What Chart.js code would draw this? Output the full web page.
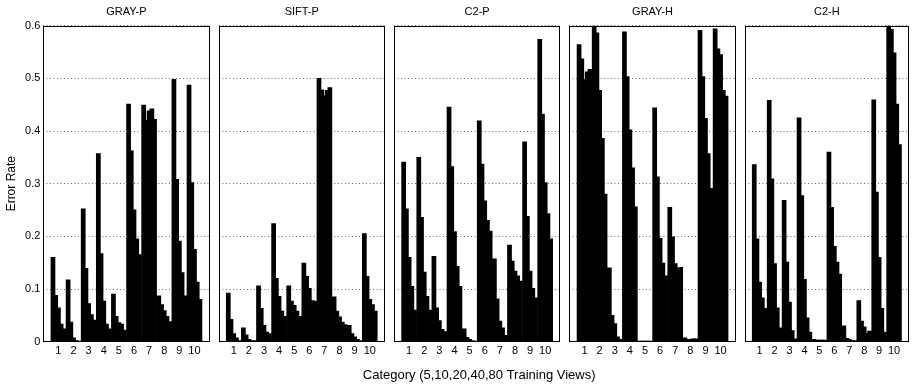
<!DOCTYPE html>
<html><head><meta charset="utf-8">
<script src="https://cdn.jsdelivr.net/npm/chart.js@4/dist/chart.umd.min.js"></script>
<style>
html,body{margin:0;padding:0;background:#fff;}
#wrap{position:relative;width:912px;height:386px;overflow:hidden;}
#wrap canvas{position:absolute;left:0;top:0;}
</style>
</head><body><div id="wrap"></div>
<script>
// ---- data ----
const categories = ['1','2','3','4','5','6','7','8','9','10'];
const trainingViews = ['5','10','20','40','80'];
const panelTitles = ['GRAY-P','SIFT-P','C2-P','GRAY-H','C2-H'];
const yTickLabels = ['0','0.1','0.2','0.3','0.4','0.5','0.6'];
const xAxisTitle = 'Category (5,10,20,40,80 Training Views)';
const yAxisTitle = 'Error Rate';

// rows = categories 1..10, columns = 5,10,20,40,80 training views
const grayP = [
  [0.159,0.087,0.063,0.032,0.023],
  [0.116,0.036,0.006,0.001,0.000],
  [0.251,0.138,0.071,0.050,0.040],
  [0.356,0.166,0.076,0.032,0.023],
  [0.089,0.047,0.035,0.032,0.021],
  [0.450,0.361,0.249,0.194,0.164],
  [0.448,0.419,0.437,0.441,0.421],
  [0.086,0.069,0.058,0.047,0.037],
  [0.497,0.307,0.190,0.130,0.086],
  [0.486,0.301,0.174,0.112,0.079]
];
const siftP = [
  [0.091,0.041,0.014,0.006,0.001],
  [0.025,0.012,0.003,0.001,0.001],
  [0.105,0.062,0.030,0.017,0.014],
  [0.223,0.119,0.085,0.057,0.047],
  [0.105,0.076,0.068,0.057,0.047],
  [0.148,0.123,0.100,0.077,0.076],
  [0.499,0.477,0.466,0.476,0.481],
  [0.084,0.057,0.046,0.036,0.031],
  [0.030,0.014,0.008,0.003,0.001],
  [0.204,0.123,0.079,0.069,0.057]
];
const c2P = [
  [0.340,0.251,0.159,0.104,0.059],
  [0.349,0.235,0.131,0.085,0.059],
  [0.161,0.063,0.039,0.022,0.018],
  [0.444,0.331,0.208,0.142,0.104],
  [0.023,0.007,0.003,0.001,0.000],
  [0.418,0.336,0.266,0.229,0.209],
  [0.156,0.080,0.038,0.025,0.011],
  [0.182,0.152,0.133,0.124,0.114],
  [0.378,0.237,0.133,0.100,0.082],
  [0.573,0.431,0.301,0.242,0.194]
];
const grayH = [
  [0.563,0.536,0.497,0.511,0.516],
  [0.600,0.585,0.476,0.385,0.279],
  [0.139,0.049,0.033,0.008,0.003],
  [0.587,0.502,0.401,0.329,0.255],
  [0.000,0.000,0.000,0.000,0.000],
  [0.443,0.312,0.195,0.148,0.124],
  [0.254,0.198,0.147,0.138,0.140],
  [0.006,0.003,0.003,0.004,0.004],
  [0.590,0.502,0.423,0.356,0.290],
  [0.593,0.555,0.544,0.476,0.465]
];
const c2H = [
  [0.335,0.194,0.112,0.082,0.062],
  [0.457,0.308,0.147,0.063,0.025],
  [0.267,0.150,0.074,0.020,0.004],
  [0.424,0.276,0.117,0.044,0.017],
  [0.003,0.002,0.002,0.002,0.002],
  [0.359,0.254,0.180,0.150,0.127],
  [0.029,0.005,0.003,0.001,0.001],
  [0.077,0.038,0.027,0.014,0.019],
  [0.458,0.283,0.159,0.062,0.017],
  [0.600,0.592,0.547,0.450,0.373]
];
const panelData = [grayP, siftP, c2P, grayH, c2H];

// ---- layout ----
const W = 912, H = 386;
const plotLefts = [43.3, 218.6, 394.0, 569.4, 744.7];
const plotWidth = 166.3;
const FONT = 'Liberation Sans, Arial, Helvetica, sans-serif';

const boxPlugin = {
  id: 'box',
  afterDraw(chart) {
    const a = chart.chartArea, ctx = chart.ctx;
    ctx.save();
    ctx.strokeStyle = '#000';
    ctx.lineWidth = 1;
    const l = Math.round(a.left) + 0.5, t = Math.round(a.top) + 0.5;
    const r = Math.round(a.right) - 0.5, b = Math.round(a.bottom) - 0.5;
    ctx.strokeRect(l, t, r - l, b - t);
    ctx.restore();
  }
};

// shared x-axis title, drawn under the middle panel without width squeezing
const xTitlePlugin = {
  id: 'xTitle',
  afterDraw(chart) {
    const a = chart.chartArea, ctx = chart.ctx;
    ctx.save();
    ctx.font = '13px ' + FONT;
    ctx.fillStyle = '#000';
    ctx.textAlign = 'center';
    ctx.textBaseline = 'middle';
    ctx.fillText(xAxisTitle, (a.left + a.right) / 2 + 2, 375);
    ctx.restore();
  }
};

const wrap = document.getElementById('wrap');
panelData.forEach((rows, p) => {
  const cv = document.createElement('canvas');
  cv.width = W; cv.height = H;
  cv.style.width = W + 'px'; cv.style.height = H + 'px';
  wrap.appendChild(cv);
  const datasets = trainingViews.map((tv, j) => ({
    label: tv + ' views',
    data: categories.map((c, i) => ({ x: i + 1, y: rows[i][j] })),
    backgroundColor: '#000',
    borderWidth: 0,
    inflateAmount: 1,
    categoryPercentage: 0.9,
    barPercentage: 1.0
  }));
  const left = plotLefts[p];
  const isFirst = p === 0;
  new Chart(cv, {
    type: 'bar',
    data: { datasets },
    plugins: p === 2 ? [boxPlugin, xTitlePlugin] : [boxPlugin],
    options: {
      responsive: false,
      animation: false,
      devicePixelRatio: 1,
      layout: { padding: { left: isFirst ? 0 : left, right: W - (left + plotWidth), top: 0, bottom: 0 } },
      plugins: {
        legend: { display: false },
        tooltip: { enabled: false },
        title: {
          display: true, fullSize: false, text: panelTitles[p], color: '#000',
          font: { family: FONT, size: 11, weight: 'normal' },
          padding: { top: 5.5, bottom: 7 }
        }
      },
      scales: {
        x: {
          type: 'linear', min: 0, max: 11, offset: false,
          grid: { display: false, drawTicks: false },
          border: { display: false },
          ticks: {
            stepSize: 1, autoSkip: false, maxRotation: 0, color: '#000',
            font: { family: FONT, size: 11 }, padding: 3,
            callback: v => (v >= 1 && v <= 10) ? categories[v - 1] : ''
          },
          afterFit: s => { s.height = 44.3; }
        },
        y: {
          min: 0, max: 0.6,
          grid: { color: '#666', drawTicks: false, lineWidth: 1 },
          border: { display: false, dash: [1, 2.5] },
          ticks: {
            display: isFirst, stepSize: 0.1, color: '#000',
            font: { family: FONT, size: 11 }, padding: 3,
            callback: v => yTickLabels[Math.round(v * 10)]
          },
          title: {
            display: isFirst, text: yAxisTitle, color: '#000',
            font: { family: FONT, size: 12 }, padding: { top: 4.5, bottom: 0 }
          },
          afterFit: s => { s.width = isFirst ? left : 0; }
        }
      }
    }
  });
});
</script>
</body></html>
